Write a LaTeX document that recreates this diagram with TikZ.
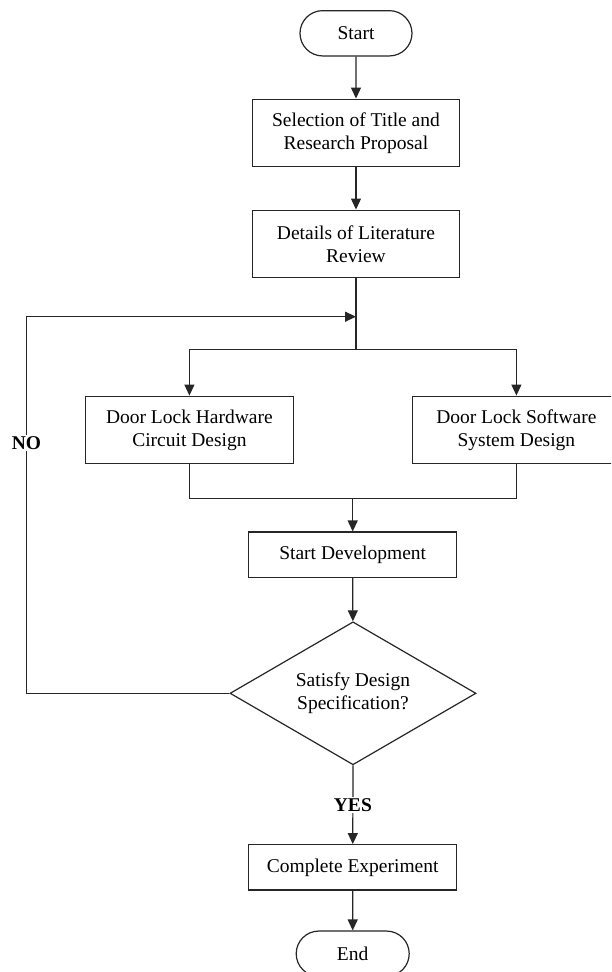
\documentclass[tikz,border=0pt]{standalone}
\usepackage{fontspec}
\setmainfont{Liberation Serif}
\usetikzlibrary{shapes.geometric,shapes.misc,arrows.meta}

\begin{document}
\begin{tikzpicture}[x=1pt,y=-1pt,
  every node/.style={font=\fontsize{19.5}{22.7}\selectfont, text=black},
  line/.style={draw=black!85, line width=1.2pt},
  arr/.style={line, -{Triangle[length=11pt,width=10pt]}},
  proc/.style={line, rectangle, align=center, inner sep=2pt},
  bigbox/.style={proc, minimum width=207.5pt, minimum height=67.7pt},
  smallbox/.style={proc, minimum width=208pt, minimum height=45.3pt},
  term/.style={line, rounded rectangle, minimum width=116pt, minimum height=45.3pt, inner sep=2pt},
  decision/.style={line, diamond, aspect=1.72, inner sep=0pt, align=center,
                   minimum width=246pt, minimum height=143pt},
  lbl/.style={fill=white, inner sep=1.5pt, font=\fontsize{19.5}{22.7}\selectfont\bfseries}]

  % page area
  \useasboundingbox (0,0) rectangle (611,972);
  \clip (0,0) rectangle (611,972);
  \fill[white] (0,0) rectangle (611,972);

  % nodes
  \node[term] (start) at (356,33.3) {Start};
  \node[bigbox] (title) at (356,133) {Selection of Title and\\Research Proposal};
  \node[bigbox] (review) at (356,244) {Details of Literature\\Review};
  \node[bigbox] (hw) at (189.4,430) {Door Lock Hardware\\Circuit Design};
  \node[bigbox] (sw) at (516.4,430) {Door Lock Software\\System Design};
  \node[smallbox] (dev) at (352.7,554.7) {Start Development};
  \node[decision] (check) at (353,693.3) {Satisfy Design\\Specification?};
  \node[smallbox] (done) at (352.7,867.3) {Complete Experiment};
  \node[term, minimum width=117pt] (end) at (352.7,953.7) {End};

  % junction points
  \coordinate (loop) at (356,316.7);
  \coordinate (split) at (356,349.3);
  \coordinate (merge) at (352.7,498.3);
  \coordinate (backlow) at (26.5,693.3);
  \coordinate (backhigh) at (26.5,316.7);

  % connectors
  \draw[arr] (start) -- (title);
  \draw[arr] (title) -- (review);
  \draw[line] (review) -- (split);
  \draw[arr] (split) -| (hw);
  \draw[arr] (split) -| (sw);
  \draw[line] (hw.south) |- (merge) -| (sw.south);
  \draw[arr] (merge) -- (dev);
  \draw[arr] (dev) -- (check);
  \draw[arr] (check.south) -- node[lbl] {YES} (done);
  \draw[arr] (done) -- (end);
  \draw[arr] (check.west) -- (backlow) -- node[lbl, pos=0.665] {NO} (backhigh) -- (loop);
\end{tikzpicture}
\end{document}
